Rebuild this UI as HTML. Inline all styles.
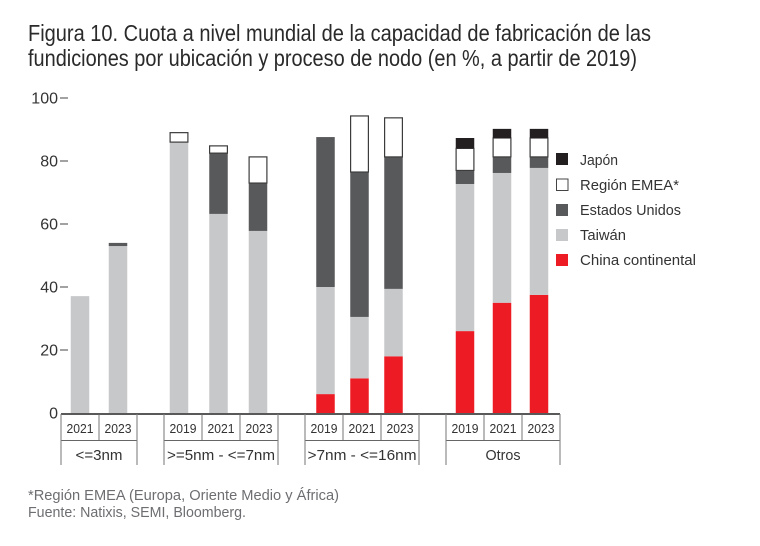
<!DOCTYPE html>
<html lang="es">
<head>
<meta charset="utf-8">
<title>Figura 10</title>
<style>
html,body{margin:0;padding:0;background:#fff;}
svg{display:block;font-family:"Liberation Sans",sans-serif;}
</style>
</head>
<body>
<svg id="chart" width="760" height="546" viewBox="0 0 760 546" xmlns="http://www.w3.org/2000/svg">
<rect width="760" height="546" fill="#fff"/>
<text x="28" y="41" font-size="23" fill="#2a2a2a" textLength="623" lengthAdjust="spacingAndGlyphs">Figura 10. Cuota a nivel mundial de la capacidad de fabricación de las</text>
<text x="28" y="66" font-size="23" fill="#2a2a2a" textLength="609" lengthAdjust="spacingAndGlyphs">fundiciones por ubicación y proceso de nodo (en %, a partir de 2019)</text>
<g id="bars"></g>
<g id="axes"></g>
<g>
<rect x="556" y="153" width="12" height="12" fill="#231f20"/>
<text x="580" y="165" font-size="15" fill="#333" textLength="38" lengthAdjust="spacingAndGlyphs">Japón</text>
<rect x="556.5" y="179" width="11.5" height="11.5" fill="#fff" stroke="#444" stroke-width="1"/>
<text x="580" y="190" font-size="15" fill="#333" textLength="99" lengthAdjust="spacingAndGlyphs">Región EMEA*</text>
<rect x="556" y="204" width="12" height="12" fill="#58595b"/>
<text x="580" y="215" font-size="15" fill="#333" textLength="101" lengthAdjust="spacingAndGlyphs">Estados Unidos</text>
<rect x="556" y="229" width="12" height="12" fill="#c7c8ca"/>
<text x="580" y="240" font-size="15" fill="#333" textLength="46" lengthAdjust="spacingAndGlyphs">Taiwán</text>
<rect x="556" y="254" width="12" height="12" fill="#ed1c24"/>
<text x="580" y="265" font-size="15" fill="#333" textLength="116" lengthAdjust="spacingAndGlyphs">China continental</text>
</g>
<text x="28" y="500" font-size="15" fill="#6d6e71" textLength="311" lengthAdjust="spacingAndGlyphs">*Región EMEA (Europa, Oriente Medio y África)</text>
<text x="28" y="517" font-size="15" fill="#6d6e71" textLength="218" lengthAdjust="spacingAndGlyphs">Fuente: Natixis, SEMI, Bloomberg.</text>
</svg>
<script>
// Data
var groupLabels = ["<=3nm", ">=5nm - <=7nm", ">7nm - <=16nm", "Otros"];
var yearLabels = [
  ["2021", "2023"],
  ["2019", "2021", "2023"],
  ["2019", "2021", "2023"],
  ["2019", "2021", "2023"]
];
var yTicks = [0, 20, 40, 60, 80, 100];
var china  = [0, 0,    0, 0, 0,          6, 11, 18,         26, 35, 37.5];
var taiwan = [37.1, 53, 86, 63.2, 57.8,  34, 19.5, 21.4,    46.7, 41.2, 40.3];
var usa    = [0, 1,    0, 19.3, 15.2,    47.6, 46, 41.9,    4.3, 5.1, 3.5];
var emea   = [0, 0,    3, 2.3, 8.3,      0, 17.8, 12.4,     7, 6, 6];
var japan  = [0, 0,    0, 0, 0,          0, 0, 0,           3.3, 2.9, 2.9];

// Axis functions and layout
var NS = "http://www.w3.org/2000/svg";
var barsG = document.getElementById("bars");
var axesG = document.getElementById("axes");
function yScale(v) { return 413 - v * 3.15; }
var groupFrames = [
  { left: 61, cell: 38, first: 80, step: 38 },
  { left: 164, cell: 38, first: 179, step: 39.5 },
  { left: 305, cell: 38, first: 325.5, step: 34 },
  { left: 446, cell: 38, first: 465, step: 37 }
];
function barCenter(g, i) { return groupFrames[g].first + i * groupFrames[g].step; }
function make(tag, attrs, parent) {
  var el = document.createElementNS(NS, tag);
  for (var k in attrs) el.setAttribute(k, attrs[k]);
  parent.appendChild(el);
  return el;
}

// Bars
var seriesList = [
  { key: "china", values: china, fill: "#ed1c24" },
  { key: "taiwan", values: taiwan, fill: "#c7c8ca" },
  { key: "usa", values: usa, fill: "#58595b" },
  { key: "emea", values: emea, fill: "#ffffff", stroke: "#3c3c3c" },
  { key: "japan", values: japan, fill: "#231f20" }
];
var barIndex = 0;
yearLabels.forEach(function (years, g) {
  years.forEach(function (year, i) {
    var base = 0;
    var cx = barCenter(g, i);
    seriesList.forEach(function (s) {
      var v = s.values[barIndex];
      if (v > 0) {
        var top = yScale(base + v);
        var bottom = yScale(base);
        var attrs = { x: cx - 9.25, y: top, width: 18.5, height: bottom - top, fill: s.fill };
        if (s.stroke) {
          attrs.stroke = s.stroke;
          attrs["stroke-width"] = 1.2;
          attrs.x = cx - 8.9;
          attrs.width = 17.8;
        }
        var r = make("rect", attrs, barsG);
        
        
      }
      base += v;
    });
    barIndex++;
  });
});

// Y axis labels and ticks
yTicks.forEach(function (t) {
  var y = yScale(t);
  var label = make("text", { x: 58, y: y + 5.5, "font-size": 16, fill: "#333", "text-anchor": "end" }, axesG);
  label.textContent = String(t);
  
  
  if (t > 0) {
    var tick = make("line", { x1: 60, x2: 68, y1: y, y2: y, stroke: "#444", "stroke-width": 1 }, axesG);
    
    
  }
});

// X axis baseline
var axisLine = make("line", { x1: 61, x2: 560, y1: 414, y2: 414, stroke: "#222", "stroke-width": 1.6 }, axesG);



// Category table
var groupWidths = [47, 108, 109, 35];
yearLabels.forEach(function (years, g) {
  var f = groupFrames[g];
  var right = f.left + years.length * f.cell;
  var sep = make("line", { x1: f.left, x2: right, y1: 440.5, y2: 440.5, stroke: "#666", "stroke-width": 0.9 }, axesG);
  
  
  [f.left, right].forEach(function (x) {
    var edge = make("line", { x1: x, x2: x, y1: 414, y2: 465, stroke: "#808080", "stroke-width": 1.1 }, axesG);
    
    
  });
  years.forEach(function (year, i) {
    var cellLeft = f.left + i * f.cell;
    if (i > 0) {
      var div = make("line", { x1: cellLeft, x2: cellLeft, y1: 414, y2: 440, stroke: "#666", "stroke-width": 0.9 }, axesG);
      
      
    }
    var yl = make("text", { x: cellLeft + f.cell / 2, y: 433, "font-size": 12.5, fill: "#333", "text-anchor": "middle", textLength: 27, lengthAdjust: "spacingAndGlyphs" }, axesG);
    yl.textContent = year;
    
    
  });
  var gl = make("text", { x: (f.left + right) / 2, y: 460, "font-size": 15, fill: "#333", "text-anchor": "middle", textLength: groupWidths[g], lengthAdjust: "spacingAndGlyphs" }, axesG);
  gl.textContent = groupLabels[g];
  
  
});
</script>
</body>
</html>
